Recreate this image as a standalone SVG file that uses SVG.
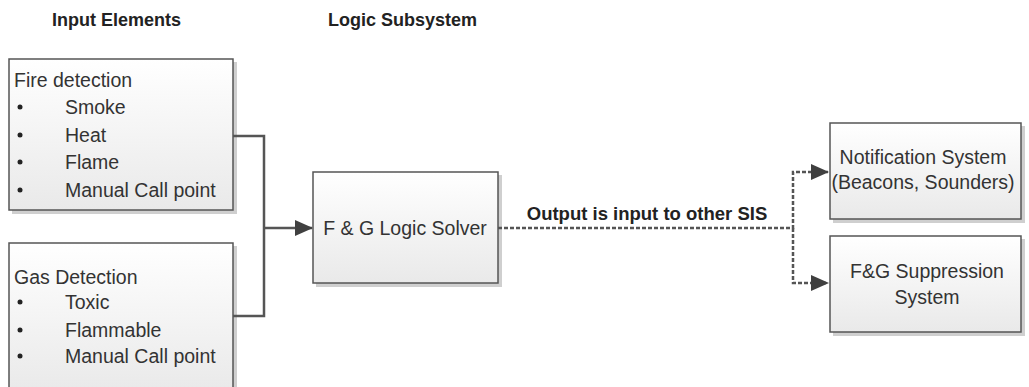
<svg xmlns="http://www.w3.org/2000/svg" width="1029" height="387" viewBox="0 0 1029 387">
<defs>
<linearGradient id="g" x1="0" y1="0" x2="0" y2="1">
<stop offset="0" stop-color="#ffffff"/>
<stop offset="1" stop-color="#e9e9e9"/>
</linearGradient>
<marker id="arrL" markerWidth="18" markerHeight="16" refX="17" refY="8" orient="auto" markerUnits="userSpaceOnUse" viewBox="0 0 18 16">
<path d="M0,0 L18,8 L0,16 z" fill="#404040"/>
</marker>
</defs>
<style>
text{font-family:"Liberation Sans",Arial,sans-serif;fill:#333}
.h{font-weight:bold;font-size:18px;fill:#222}
.t{font-size:19.5px}
.box{fill:url(#g);stroke:#555;stroke-width:1.5}
.sh{fill:#cfcfcf}
.c{fill:none;stroke:#555;stroke-width:2.5}
.d{fill:none;stroke:#555;stroke-width:2.5;stroke-dasharray:4 2}
.lbl{font-weight:bold;font-size:18.5px;fill:#222}
.b{fill:#222}
</style>
<rect width="1029" height="387" fill="#fff"/>
<text class="h" x="52" y="26">Input Elements</text>
<text class="h" x="328" y="26">Logic Subsystem</text>

<g id="fire">
<rect class="sh" x="12" y="62" width="225" height="152"/>
<rect class="box" x="9" y="59" width="224" height="151"/>
<text class="t" x="14" y="87">Fire detection</text>
<circle class="b" cx="20" cy="107" r="2.5"/>
<text class="t" x="65" y="114">Smoke</text>
<circle class="b" cx="20" cy="135" r="2.5"/>
<text class="t" x="65" y="142">Heat</text>
<circle class="b" cx="20" cy="162" r="2.5"/>
<text class="t" x="65" y="169">Flame</text>
<circle class="b" cx="20" cy="190" r="2.5"/>
<text class="t" x="65" y="197">Manual Call point</text>
</g>

<g id="gas">
<rect class="sh" x="12" y="246" width="225" height="150"/>
<rect class="box" x="9" y="243" width="224" height="150"/>
<text class="t" x="14" y="284">Gas Detection</text>
<circle class="b" cx="20" cy="302" r="2.5"/>
<text class="t" x="65" y="309">Toxic</text>
<circle class="b" cx="20" cy="330" r="2.5"/>
<text class="t" x="65" y="337">Flammable</text>
<circle class="b" cx="20" cy="356" r="2.5"/>
<text class="t" x="65" y="363">Manual Call point</text>
</g>

<g id="solver">
<rect class="sh" x="316" y="175" width="186" height="112"/>
<rect class="box" x="313" y="172" width="185" height="111"/>
<text class="t" x="405" y="235" text-anchor="middle">F &amp; G Logic Solver</text>
</g>

<g id="notify">
<rect class="sh" x="833" y="126" width="192" height="97"/>
<rect class="box" x="830" y="123" width="191" height="96"/>
<text class="t" x="923" y="164" text-anchor="middle">Notification System</text>
<text class="t" x="923" y="189" text-anchor="middle">(Beacons, Sounders)</text>
</g>

<g id="suppress">
<rect class="sh" x="833" y="239" width="192" height="97"/>
<rect class="box" x="830" y="236" width="191" height="96"/>
<text class="t" x="927" y="278" text-anchor="middle">F&amp;G Suppression</text>
<text class="t" x="927" y="304" text-anchor="middle">System</text>
</g>

<g id="connectors">
<path class="c" d="M233,136 H264 V316 H233"/>
<path class="c" d="M264,228 H312" marker-end="url(#arrL)"/>
<path class="d" d="M498,228 H793 V172 H828" marker-end="url(#arrL)"/>
<path class="d" d="M793,228 V283 H828" marker-end="url(#arrL)"/>
<text class="lbl" x="647" y="220" text-anchor="middle">Output is input to other SIS</text>
</g>
</svg>
